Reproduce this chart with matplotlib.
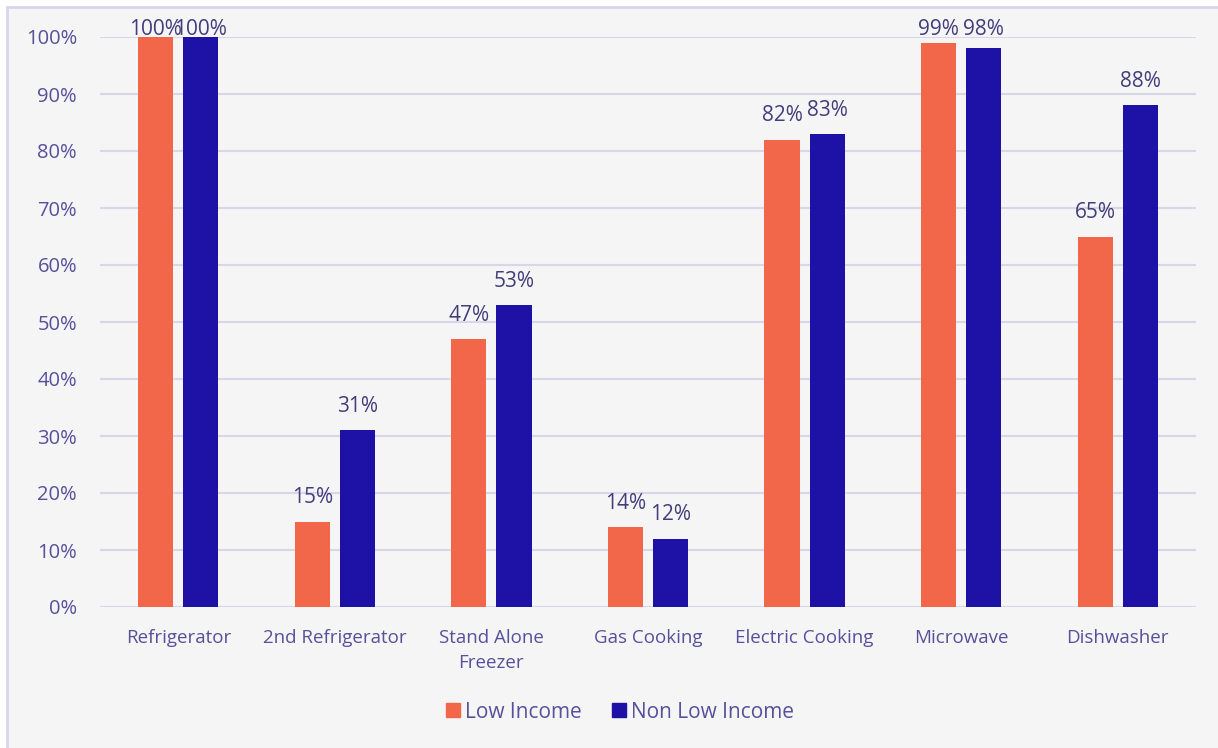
import numpy as np
import matplotlib.pyplot as plt
from matplotlib.patches import Rectangle, Patch

plt.rcParams['font.family'] = ['Open Sans', 'DejaVu Sans']

categories = ['Refrigerator', '2nd Refrigerator', 'Stand Alone\nFreezer', 'Gas Cooking',
              'Electric Cooking', 'Microwave', 'Dishwasher']
low_income = [100, 15, 47, 14, 82, 99, 65]
non_low_income = [100, 31, 53, 12, 83, 98, 88]

orange = '#f2674a'
blue = '#1e12a6'
txt = '#57509a'
lbl = '#433d7c'
grid = '#d9d6ea'

fig = plt.figure(figsize=(12.18, 7.48), dpi=100)
fig.patch.set_facecolor('white')
# panel background with border, kept behind the axes
fig.patches.append(Rectangle((7 / 1218, -0.01), 1.02, 1 - 7 / 748 + 0.01, transform=fig.transFigure,
                             facecolor='#f5f5f5', edgecolor='#d9d5ec', lw=2, zorder=-10))

ax = fig.add_axes([100 / 1218, 1 - 607 / 748, 1096 / 1218, 570 / 748])
ax.set_facecolor('none')

x = np.arange(len(categories))
w = 0.224
off = 0.144
ax.bar(x - off, low_income, w, color=orange, zorder=3, label='Low Income')
ax.bar(x + off, non_low_income, w, color=blue, zorder=3, label='Non Low Income')

# value labels sit above the bars but never above the top gridline
for xs, vals in ((x - off, low_income), (x + off, non_low_income)):
    for xi, v in zip(xs, vals):
        ax.text(xi, min(v + 3.2, 100.4), f'{v}%', ha='center', va='baseline',
                fontsize=15, color=lbl, clip_on=False)

ax.set_xlim(-0.5, len(categories) - 0.5)
ax.set_ylim(0, 100)
ax.set_yticks(range(0, 101, 10))
ax.set_yticklabels([f'{t}%' for t in range(0, 101, 10)])
ax.set_xticks(x)
ax.set_xticklabels(categories, linespacing=1.45)
ax.tick_params(axis='both', length=0, colors=txt)
ax.tick_params(axis='y', pad=16.5, labelsize=14.5)
ax.tick_params(axis='x', pad=16, labelsize=13.5)
ax.grid(axis='y', color=grid, lw=1.5, zorder=0)
for s in ax.spines.values():
    s.set_visible(False)

handles = [Patch(color=orange, label='Low Income'), Patch(color=blue, label='Non Low Income')]
leg = fig.legend(handles=handles, loc='center', bbox_to_anchor=(620 / 1218, 1 - 712 / 748), ncol=2,
                 frameon=False, fontsize=15, handlelength=0.67, handleheight=0.67,
                 handletextpad=0.25, columnspacing=1.45)
for t in leg.get_texts():
    t.set_color(txt)

fig.savefig('out.png', dpi=100)
